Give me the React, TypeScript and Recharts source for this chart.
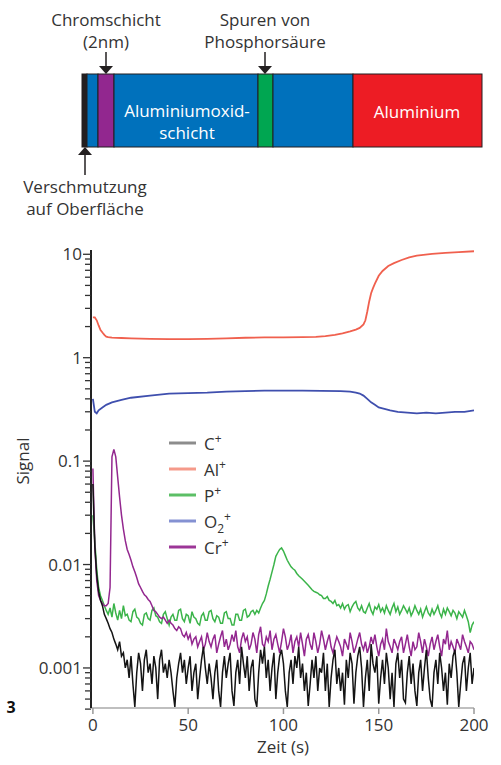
import { LineChart, Line, XAxis, YAxis, Legend } from "recharts"

const FONT = "'Open Sans', 'Noto Sans', sans-serif"
const TEXT = "#333"

// 1 s sampling of the noisy traces, 0..200 s
const noisyTime = Array.from({ length: 201 }, (_, i) => i)

// noisy traces, signal in units of 1e-4 (one row = 10 s)
const cPlus = [
  600, 150, 80, 55, 45, 40, 33, 30, 27, 24,
  22, 19, 17, 15, 18, 13, 14, 10, 12, 8,
  13, 7, 4.2, 9, 14, 11, 6, 12, 15, 9,
  11, 7, 13, 10, 5, 12, 15, 9, 11, 8,
  12, 9, 6, 4.2, 8, 11, 14, 9, 12, 7,
  10, 13, 6, 9, 11, 5, 8, 12, 16, 10,
  7, 11, 8, 5, 9, 12, 6, 4.2, 9, 13,
  8, 11, 14, 6, 4.3, 9, 12, 7, 16, 11,
  8, 13, 6, 10, 12, 5, 4.2, 9, 15, 11,
  16, 8, 12, 6, 10, 14, 5, 9, 13, 15,
  11, 6, 4.2, 9, 12, 7, 13, 10, 16, 8,
  11, 6, 9, 4.3, 7, 12, 8, 13, 6, 10,
  9, 14, 6, 11, 4.2, 8, 12, 15, 7, 10,
  6, 9, 4.4, 12, 8, 14, 11, 4.5, 9, 13,
  16, 10, 4.2, 8, 12, 6, 17, 11, 9, 13,
  4.5, 8, 12, 7, 14, 10, 5, 9, 4.2, 11,
  14, 8, 12, 5, 4.6, 9, 13, 7, 11, 6,
  4.3, 9, 12, 6, 10, 15, 8, 5, 4.2, 9,
  12, 7, 14, 10, 6, 9, 4.4, 11, 8, 13,
  15, 9, 4.2, 7, 11, 13, 6, 10, 14, 7,
  10,
]

const crPlus = [
  850, 150, 70, 50, 45, 42, 40, 40, 42, 60,
  1100, 1300, 1100, 700, 450, 300, 220, 170, 140, 125,
  110, 95, 85, 75, 65, 60, 55, 51, 49, 46,
  44, 40, 36, 35, 33, 31, 30, 31, 29, 27,
  29, 27, 26, 24, 23, 25, 24, 21, 20, 22,
  19, 21, 17, 19, 20, 16, 18, 20, 15, 17,
  22, 18, 16, 19, 21, 14, 17, 20, 23, 16,
  19, 15, 17, 21, 18, 23, 16, 14, 19, 22,
  18, 20, 15, 17, 22, 19, 14, 21, 25, 17,
  16, 20, 18, 23, 15, 19, 21, 17, 14, 18,
  24, 20, 15, 17, 21, 14, 18, 20, 16, 22,
  17, 13, 19, 21, 17, 15, 22, 18, 14, 17,
  23, 19, 15, 18, 21, 16, 14, 17, 20, 18,
  16, 13, 19, 17, 15, 22, 18, 14, 16, 19,
  22, 17, 15, 18, 14, 16, 20, 17, 21, 16,
  13, 17, 19, 15, 24, 18, 16, 14, 19, 17,
  15, 18, 20, 14, 17, 21, 16, 13, 18, 15,
  16, 22, 18, 14, 19, 16, 13, 17, 20, 15,
  18, 21, 16, 13, 19, 17, 23, 15, 18, 16,
  14, 19, 17, 15, 21, 18, 16, 14, 18, 17,
  15,
]

const pPlus = [
  300, 170, 90, 60, 50, 45, 40, 36, 33, 38,
  31, 42, 34, 29, 36, 30, 40, 32, 33, 29,
  28, 35, 37, 31, 30, 27, 26, 33, 34, 30,
  29, 36, 38, 32, 31, 28, 27, 33, 35, 30,
  26, 31, 33, 29, 29, 36, 37, 30, 28, 33,
  32, 27, 35, 31, 30, 27, 26, 32, 34, 29,
  29, 35, 36, 30, 28, 32, 31, 27, 27, 34,
  35, 30, 30, 26, 26, 33, 33, 29, 29, 36,
  37, 31, 32, 35, 36, 33, 36, 34, 38, 42,
  45, 52, 62, 72, 85, 100, 120, 130, 140, 145,
  135, 122, 110, 102, 95, 91, 88, 82, 78, 75,
  72, 69, 66, 63, 60, 57, 55, 54, 53, 51,
  50, 47, 47, 49, 45, 44, 42, 45, 40, 41,
  38, 42, 37, 40, 41, 35, 39, 42, 44, 38,
  36, 40, 35, 34, 38, 42, 36, 33, 39, 37,
  41, 35, 38, 34, 40, 36, 33, 38, 42, 35,
  39, 33, 36, 40, 37, 34, 38, 32, 35, 40,
  36, 33, 37, 31, 35, 39, 34, 32, 37, 33,
  36, 40, 34, 31, 37, 33, 38, 35, 32, 36,
  34, 30, 35, 33, 31, 36, 32, 28, 22, 26,
  28,
]

const alTime = [
  0, 1, 2, 3, 4, 5, 6, 7, 8, 10, 15, 20, 30, 40, 50, 60, 70, 80, 90, 100, 110,
  117, 122, 127, 131, 135, 138, 140, 142, 143, 144, 145, 146, 147, 148, 150,
  152, 155, 158, 162, 166, 170, 178, 185, 192, 200,
]
const alPlus = [
  2.45, 2.45, 2.3, 2.05, 1.85, 1.75, 1.66, 1.6, 1.58, 1.56, 1.55, 1.54, 1.52,
  1.51, 1.51, 1.52, 1.54, 1.56, 1.57, 1.57, 1.58, 1.59, 1.62, 1.66, 1.72, 1.8,
  1.87, 1.94, 2.1, 2.3, 2.8, 3.5, 4.2, 4.7, 5.2, 6.2, 6.9, 7.7, 8.2, 8.8, 9.35,
  9.7, 10.1, 10.3, 10.5, 10.7,
]

const o2Time = [
  0, 1, 2, 3, 5, 7, 10, 15, 20, 30, 40, 50, 60, 70, 80, 90, 100, 110, 120, 130,
  135, 138, 140, 142, 144, 146, 148, 150, 153, 156, 160, 165, 170, 175, 180,
  185, 190, 195, 200,
]
const o2Plus = [
  0.4, 0.3, 0.29, 0.31, 0.33, 0.35, 0.37, 0.39, 0.41, 0.43, 0.45, 0.455, 0.46,
  0.47, 0.475, 0.48, 0.48, 0.48, 0.478, 0.475, 0.47, 0.46, 0.45, 0.43, 0.4,
  0.37, 0.35, 0.33, 0.32, 0.31, 0.3, 0.295, 0.29, 0.295, 0.29, 0.295, 0.3,
  0.3, 0.31,
]

const xTicks = [0, 50, 100, 150, 200]
const decades = [0.0001, 0.001, 0.01, 0.1, 1]

const toPoints = (ts: number[], vs: number[], unit = 1) =>
  vs.map((v, i) => ({ t: ts[i], v: v * unit }))

const cData = toPoints(noisyTime, cPlus, 1e-4)
const crData = toPoints(noisyTime, crPlus, 1e-4)
const pData = toPoints(noisyTime, pPlus, 1e-4)
const alData = toPoints(alTime, alPlus)
const o2Data = toPoints(o2Time, o2Plus)

// log ticks: 4e-4 .. 10, labels only on the decades
const yTicks: number[] = []
decades.forEach((d) => {
  for (let m = 1; m <= 9; m++) {
    const v = parseFloat((m * d).toPrecision(3))
    if (v >= 0.0004) yTicks.push(v)
  }
})
yTicks.push(10)

const isDecade = (v: number) => Math.abs(Math.log10(v) - Math.round(Math.log10(v))) < 1e-6

const YTick = (props: any) => {
  const { x, y, payload } = props
  const major = isDecade(payload.value)
  return (
    <g>
      <line x1={x - (major ? 8 : 6)} x2={x} y1={y} y2={y} stroke="#333" strokeWidth={1.3} />
      {major && (
        <text x={x - 9} y={y} dy={6} textAnchor="end" fontSize={17} fill={TEXT} fontFamily={FONT}>
          {String(payload.value)}
        </text>
      )}
    </g>
  )
}

const sup = { fontSize: 12, position: "relative" as const, top: -7 }
const sub = { fontSize: 12, position: "relative" as const, top: 5 }

const legendRows = [
  { color: "#8c8c8c", label: <>C<span style={sup}>+</span></> },
  { color: "#f59a8a", label: <>Al<span style={sup}>+</span></> },
  { color: "#5cbf66", label: <>P<span style={sup}>+</span></> },
  { color: "#8491d2", label: <>O<span style={sub}>2</span><span style={sup}>+</span></> },
  { color: "#9c3697", label: <>Cr<span style={sup}>+</span></> },
]

const renderLegend = () => (
  <div style={{ fontFamily: FONT, fontSize: 17, color: TEXT }}>
    {legendRows.map((r, i) => (
      <div key={i} style={{ display: "flex", alignItems: "center", height: 26 }}>
        <svg width={27} height={4} style={{ marginRight: 8 }}>
          <line x1={0} x2={27} y1={2} y2={2} stroke={r.color} strokeWidth={3} />
        </svg>
        <span>{r.label}</span>
      </div>
    ))}
  </div>
)

// two-line label as one text element
const Label2 = ({ x, y, lines, fill = TEXT }: { x: number; y: number; lines: string[]; fill?: string }) => (
  <text x={x} y={y} fontFamily={FONT} fontSize={17} fill={fill} textAnchor="middle">
    {lines.map((l, i) => (
      <tspan key={i} x={x} dy={i === 0 ? 0 : 22}>
        {l}
      </tspan>
    ))}
  </text>
)

function LayerDiagram() {
  const top = 74
  const h = 73
  const segs = [
    { x: 82, w: 5, fill: "#231f20" },
    { x: 87, w: 11, fill: "#0071bc" },
    { x: 98, w: 16, fill: "#92278f" },
    { x: 114, w: 144, fill: "#0071bc" },
    { x: 258, w: 15, fill: "#00a651" },
    { x: 273, w: 80, fill: "#0071bc" },
    { x: 353, w: 129, fill: "#ed1c24" },
  ]
  return (
    <svg width={501} height={230} style={{ position: "absolute", left: 0, top: 0 }}>
      {segs.map((s, i) => (
        <rect key={i} x={s.x} y={top} width={s.w} height={h} fill={s.fill} stroke="#231f20" strokeWidth={1} />
      ))}
      <Label2 x={106} y={25.5} lines={["Chromschicht", "(2nm)"]} />
      <line x1={106} x2={106} y1={52} y2={68} stroke="#231f20" strokeWidth={1.5} />
      <polygon points="99,66 113,66 106,74" fill="#231f20" />
      <Label2 x={265} y={25.5} lines={["Spuren von", "Phosphorsäure"]} />
      <line x1={265} x2={265} y1={52} y2={68} stroke="#231f20" strokeWidth={1.5} />
      <polygon points="258,66 272,66 265,74" fill="#231f20" />
      <Label2 x={187} y={116.5} lines={["Aluminiumoxid-", "schicht"]} fill="#fff" />
      <Label2 x={417} y={118} lines={["Aluminium"]} fill="#fff" />
      <line x1={85} x2={85} y1={153} y2={175} stroke="#231f20" strokeWidth={1.5} />
      <polygon points="78,155 92,155 85,147" fill="#231f20" />
      <Label2 x={85} y={193} lines={["Verschmutzung", "auf Oberfläche"]} />
    </svg>
  )
}

export default function App() {
  return (
    <div style={{ position: "absolute", left: 0, top: 0, width: 501, height: 765, background: "#fff", fontFamily: FONT }}>
      <LayerDiagram />
      <svg width={501} height={765} style={{ position: "absolute", left: 0, top: 0 }}>
        <text transform="translate(29,461) rotate(-90)" textAnchor="middle" fontSize={17} fill={TEXT} fontFamily={FONT}>
          Signal
        </text>
        <text x={283} y={753} textAnchor="middle" fontSize={17} fill={TEXT} fontFamily={FONT}>
          Zeit (s)
        </text>
        <text x={11} y={713} textAnchor="middle" fontSize={16} fontWeight="bold" fill="#111" fontFamily={FONT}>
          3
        </text>
      </svg>
      <div style={{ position: "absolute", left: 0, top: 0 }}>
        <LineChart width={501} height={765} margin={{ top: 250, right: 27, bottom: 27, left: 31 }}>
          <XAxis
            type="number"
            dataKey="t"
            domain={[-1, 200]}
            allowDataOverflow
            ticks={xTicks}
            interval={0}
            tickSize={6}
            tickMargin={5}
            height={30}
            axisLine={{ stroke: "#aaa", strokeWidth: 1.5 }}
            tickLine={{ stroke: "#999", strokeWidth: 1.5 }}
            tick={{ fill: TEXT, fontSize: 17, fontFamily: FONT }}
          />
          <YAxis
            type="number"
            dataKey="v"
            scale="log"
            domain={[0.00041, 11]}
            allowDataOverflow
            ticks={yTicks}
            interval={0}
            tickSize={0}
            tickMargin={0}
            tickLine={false}
            tick={YTick}
            width={60}
            axisLine={{ stroke: "#222", strokeWidth: 2 }}
          />
          <Legend
            layout="vertical"
            align="center"
            verticalAlign="middle"
            content={renderLegend}
            wrapperStyle={{ left: 169, top: 430, width: 120 }}
          />
          <Line data={pData} dataKey="v" name="P+" stroke="#3bb44a" strokeWidth={1.5} dot={false} isAnimationActive={false} />
          <Line data={crData} dataKey="v" name="Cr+" stroke="#93278f" strokeWidth={1.5} dot={false} isAnimationActive={false} />
          <Line data={cData} dataKey="v" name="C+" stroke="#141414" strokeWidth={1.5} dot={false} isAnimationActive={false} />
          <Line data={alData} dataKey="v" name="Al+" stroke="#f0604e" strokeWidth={1.8} dot={false} isAnimationActive={false} />
          <Line data={o2Data} dataKey="v" name="O2+" stroke="#3f4fae" strokeWidth={1.8} dot={false} isAnimationActive={false} />
        </LineChart>
      </div>
    </div>
  )
}
